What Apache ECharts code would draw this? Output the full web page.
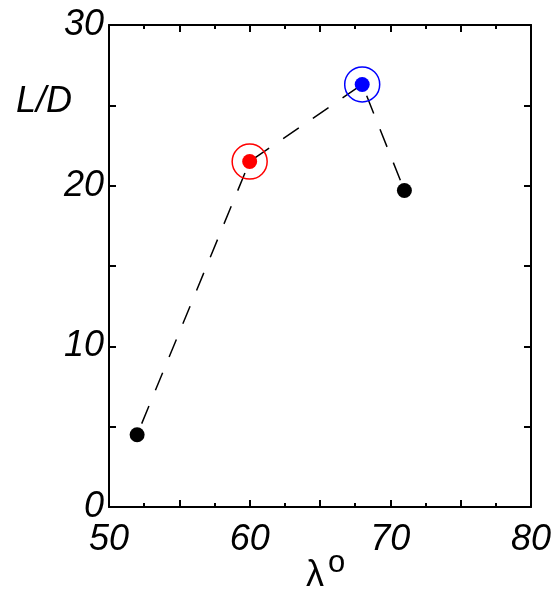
<!DOCTYPE html>
<html>
<head>
<meta charset="utf-8">
<script src="https://cdn.jsdelivr.net/npm/echarts@6/dist/echarts.min.js"></script>
<style>
  html, body { margin: 0; padding: 0; background: #fff; }
  #chart { width: 558px; height: 591px; }
</style>
</head>
<body>
<div id="chart"></div>
<script>
// Lift-to-drag ratio against sweep angle
const sweepAngle = [52, 60, 68, 71];
const liftToDrag = [4.5, 21.5, 26.3, 19.7];
const xTicks = [50, 60, 70, 80];
const yTicks = [0, 10, 20, 30];

// points drawn with a coloured fill and an outer ring
const ringed = { 1: '#ff0000', 2: '#0000ff' };

const font = '"Liberation Sans", Arial, sans-serif';
const chart = echarts.init(document.getElementById('chart'));

const pts = sweepAngle.map((x, i) => [x, liftToDrag[i]]);

const axisCommon = {
  axisLine: { show: true, onZero: false, lineStyle: { color: '#000', width: 2 } },
  axisTick: { show: true, inside: true, length: 7, lineStyle: { color: '#000', width: 2 } },
  minorTick: { show: true, splitNumber: 2, length: 4, lineStyle: { color: '#000', width: 2 } },
  splitLine: { show: false }
};

const labelStyle = {
  color: '#000', fontFamily: font, fontStyle: 'italic', fontSize: 36
};

chart.setOption({
  animation: false,
  grid: { left: 109, right: 27, top: 25, bottom: 84 },
  xAxis: [
    Object.assign({
      type: 'value', min: 50, max: 80, interval: 5, position: 'bottom',
      axisLabel: Object.assign({
        margin: 15,
        formatter: v => xTicks.includes(v) ? String(v) : ''
      }, labelStyle)
    }, axisCommon),
    Object.assign({
      type: 'value', min: 50, max: 80, interval: 5, position: 'top',
      axisLabel: { show: false }
    }, axisCommon)
  ],
  yAxis: [
    Object.assign({
      type: 'value', min: 0, max: 30, interval: 5, position: 'left',
      axisLabel: Object.assign({
        margin: 5,
        padding: [0, 0, 7, 0],
        formatter: v => yTicks.includes(v) ? String(v) : ''
      }, labelStyle)
    }, axisCommon, { minorTick: { show: false } }),
    Object.assign({
      type: 'value', min: 0, max: 30, interval: 5, position: 'right',
      axisLabel: { show: false }
    }, axisCommon, { minorTick: { show: false } })
  ],
  graphic: [
    { type: 'text', left: 16, top: 84,
      style: { text: 'L/D', fill: '#000', font: 'italic 36px ' + font } },
    { type: 'text', left: 306, top: 558,
      style: { text: 'λ', fill: '#000', font: '36px ' + font } },
    { type: 'text', left: 328, top: 548,
      style: { text: 'o', fill: '#000', font: '31px ' + font } }
  ],
  series: [
    {
      type: 'line', data: pts, symbol: 'none', z: 1,
      lineStyle: { color: '#000', width: 1.5, type: [19, 17], dashOffset: 24 }
    },
    {
      type: 'scatter', z: 3, symbolSize: 15,
      data: pts.map((p, i) => ({
        value: p,
        itemStyle: { color: ringed[i] || '#000', opacity: 1 }
      }))
    },
    {
      type: 'scatter', z: 2, symbol: 'circle', symbolSize: 35,
      data: pts.map((p, i) => ({ value: p, i })).filter(d => ringed[d.i]).map(d => ({
        value: d.value,
        itemStyle: { color: 'rgba(0,0,0,0)', borderColor: ringed[d.i], borderWidth: 1.5, opacity: 1 }
      }))
    }
  ]
});
</script>
</body>
</html>
